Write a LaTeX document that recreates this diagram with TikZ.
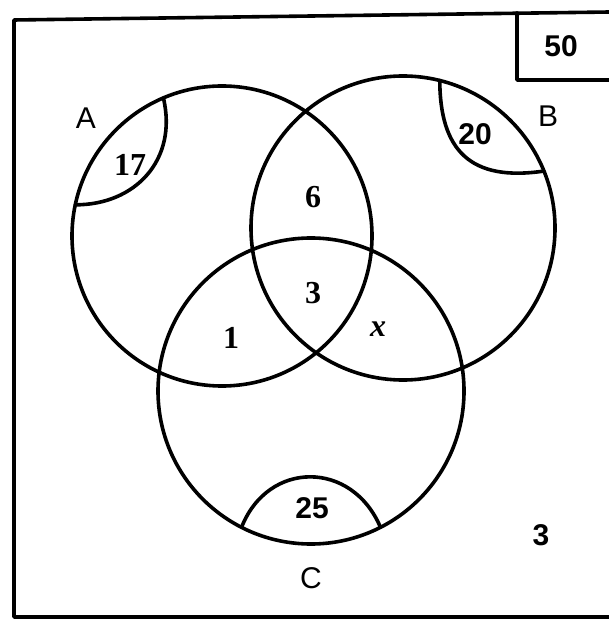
\documentclass[tikz,border=0pt]{standalone}
\usepackage{fontspec}
\setsansfont{Liberation Sans}
\setmainfont{Liberation Serif}
\usetikzlibrary{calc}
\tikzset{
  ln/.style={line width=1.8pt, line cap=round, line join=round},
  lab/.style={font=\sffamily\fontsize{15}{17}\selectfont, inner sep=0pt},
  numsf/.style={font=\sffamily\bfseries\fontsize{15}{17}\selectfont, inner sep=0pt},
  numsr/.style={font=\rmfamily\bfseries\fontsize{16}{18}\selectfont, inner sep=0pt},
}
\begin{document}
\begin{tikzpicture}[x=0.5pt,y=-0.5pt]
\useasboundingbox (0,0) rectangle (608,624);
\fill[white] (0,0) rectangle (608,624);
% frame
\coordinate (f1) at (14,20);
\coordinate (f2) at (610,12);
\coordinate (f3) at (14,617);
\coordinate (f4) at (610,617);
\draw[ln] (f2) -- (f1) -- (f3) -- (f4);
% 50 box
\coordinate (b1) at (517,13);
\coordinate (b2) at (517,80);
\coordinate (b3) at (610,80);
\draw[ln] (b1) -- (b2) -- (b3);
\node[numsf] (n50) at (561,46) {50};
% circles
\coordinate (cA) at (222,236);
\coordinate (cB) at (403,228);
\coordinate (cC) at (311,391);
\draw[ln] (cA) circle[radius=75pt];
\draw[ln] (cB) circle[radius=76pt];
\draw[ln] (cC) circle[radius=76.5pt];
% inner arcs
\coordinate (a1) at ($(cA)+(113:75pt)$);
\coordinate (a2) at ($(cA)+(168:75pt)$);
\draw[ln] (a1) .. controls (178,160) and (135,205) .. (a2);
\coordinate (bb1) at ($(cB)+(76:76pt)$);
\coordinate (bb2) at ($(cB)+(22:76pt)$);
\draw[ln] (bb1) .. controls (440,150) and (470,182) .. (bb2);
\coordinate (c1) at ($(cC)+(243:76.5pt)$);
\coordinate (c2) at ($(cC)+(297:76.5pt)$);
\draw[ln] (c1) .. controls (268,460) and (352,460) .. (c2);
% labels
\node[lab] (lA) at (86,118) {A};
\node[lab] (lB) at (548,116) {B};
\node[lab] (lC) at (311,578) {C};
\node[numsr] (n17) at (130,165) {17};
\node[numsf] (n20) at (475,134) {20};
\node[numsr] (n6) at (313,197) {6};
\node[numsr] (n3) at (313,293) {3};
\node[numsr] (n1) at (231,338) {1};
\node[font=\rmfamily\bfseries\itshape\fontsize{16}{18}\selectfont, inner sep=0pt] (nx) at (378,329) {x};
\node[numsf] (n25) at (312,508) {25};
\node[numsf] (n3o) at (541,535) {3};
\end{tikzpicture}
\end{document}
